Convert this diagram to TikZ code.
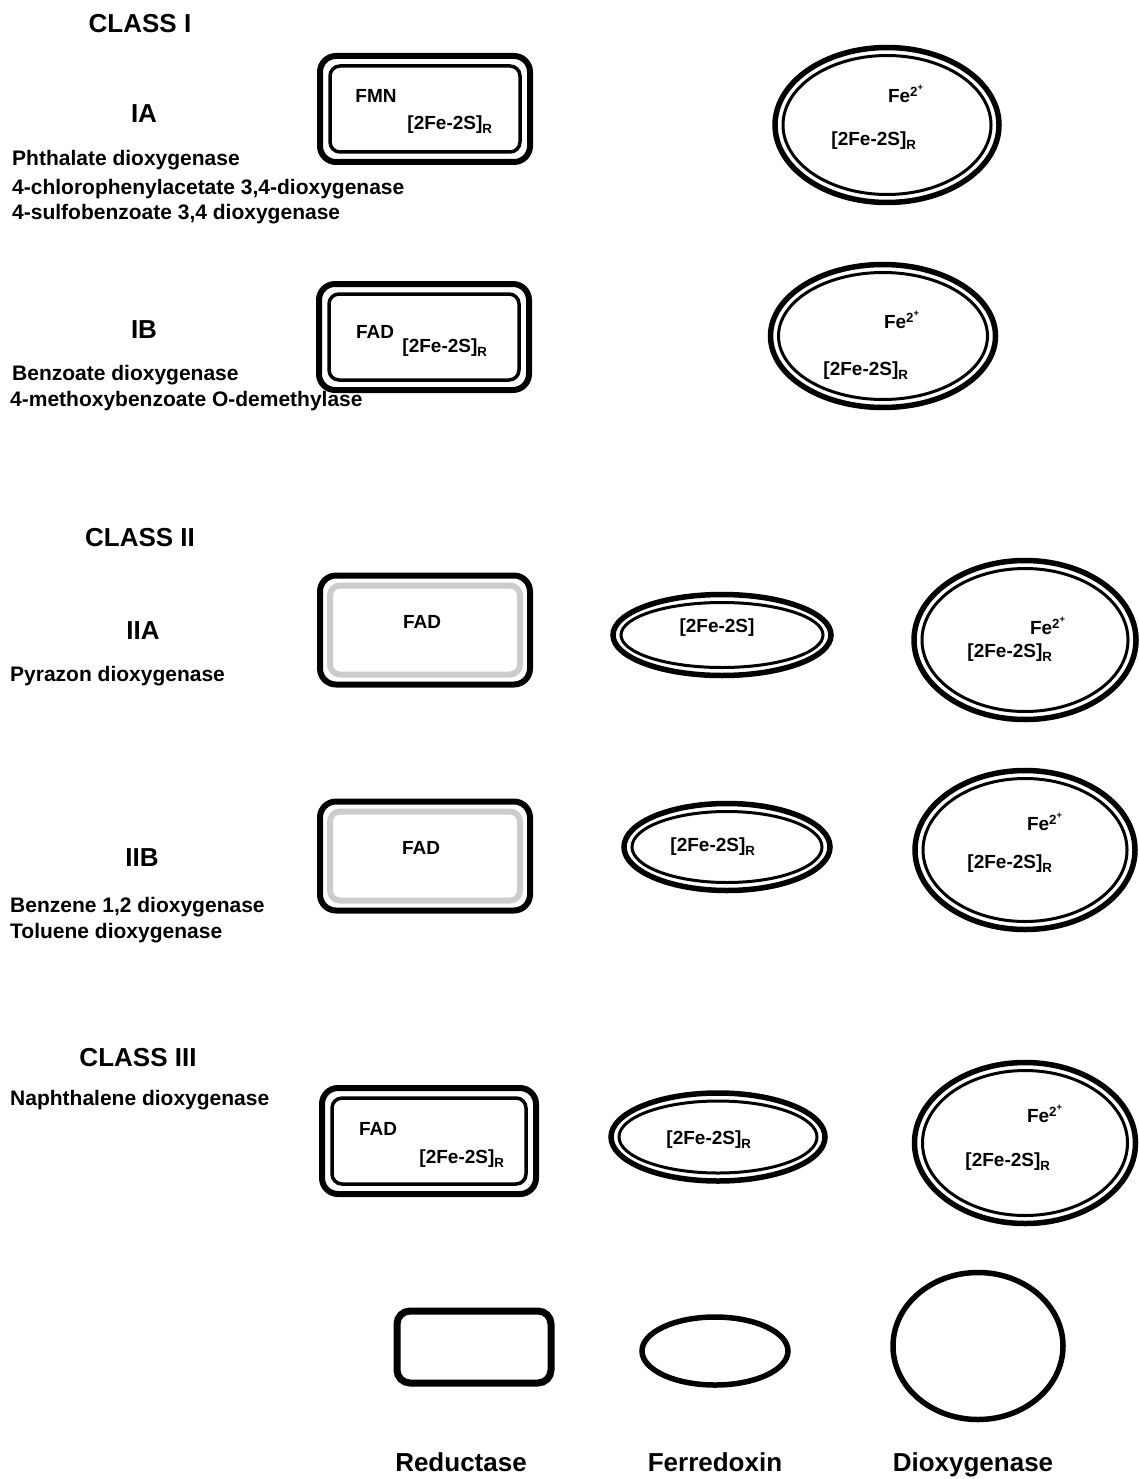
\documentclass[tikz,border=0pt]{standalone}
\usepackage{fontspec}
\setmainfont{Liberation Sans}
\usetikzlibrary{shapes.geometric}
\tikzset{
  % texts
  head/.style={font=\bfseries\fontsize{26}{30}\selectfont,inner sep=0},
  sub head/.style={font=\bfseries\fontsize{26}{30}\selectfont,inner sep=0},
  list/.style={font=\bfseries\fontsize{21}{24}\selectfont,inner sep=0,anchor=base west},
  cofac/.style={font=\bfseries\fontsize{19}{22}\selectfont,inner sep=0},
  % reductase boxes
  red out/.style={draw,line width=6,rounded corners=16,minimum width=210,minimum height=106,inner sep=0},
  red in/.style={draw,line width=3.5,rounded corners=10,minimum width=190,minimum height=86,inner sep=0},
  red gray/.style={red in,draw=gray!40,line width=6},
  % ferredoxin and dioxygenase ovals
  oval out/.style={draw,ellipse,line width=5.5,inner sep=0},
  oval in/.style={draw,ellipse,line width=3,inner sep=0}
}
\begin{document}
\begin{tikzpicture}[x=1pt,y=-1pt]
  \useasboundingbox (0,0) rectangle (1139,1479);
  % CLASS I
  \node[head] (cI) at (140,24) {CLASS I};
  \node[sub head] (IA) at (144,114) {IA};
  \node[list] (IA1) at (12,166) {Phthalate dioxygenase};
  \node[list] (IA2) at (12,195) {4-chlorophenylacetate 3,4-dioxygenase};
  \node[list] (IA3) at (12,220) {4-sulfobenzoate 3,4 dioxygenase};
  \node[red out] (rIA) at (425,109) {};
  \node[red in] (rIAi) at (rIA) {};
  \node[cofac] (fmnIA) at (376,96) {FMN};
  \node[cofac] (fsIA) at (450,125) {[2Fe-2S]\textsubscript{R}};
  \node[oval out,minimum width=224,minimum height=155] (dIA) at (887,125) {};
  \node[oval in,minimum width=208,minimum height=139] (dIAi) at (dIA) {};
  \node[cofac] (feIA) at (906,94) {Fe\textsuperscript{2\textsuperscript{+}}};
  \node[cofac] (fsdIA) at (874,141) {[2Fe-2S]\textsubscript{R}};

  \node[sub head] (IB) at (144,330) {IB};
  \node[list] (IB1) at (12,380) {Benzoate dioxygenase};
  \node[list] (IB2) at (10,406) {4-methoxybenzoate O-demethylase};
  \node[red out] (rIB) at (424,337) {};
  \node[red in] (rIBi) at (rIB) {};
  \node[cofac] (fadIB) at (375,332) {FAD};
  \node[cofac] (fsIB) at (445,348) {[2Fe-2S]\textsubscript{R}};
  \node[oval out,minimum width=225,minimum height=143] (dIB) at (883,336) {};
  \node[oval in,minimum width=209,minimum height=127] (dIBi) at (dIB) {};
  \node[cofac] (feIB) at (902,320) {Fe\textsuperscript{2\textsuperscript{+}}};
  \node[cofac] (fsdIB) at (866,371) {[2Fe-2S]\textsubscript{R}};

  % CLASS II
  \node[head] (cII) at (140,538) {CLASS II};
  \node[sub head] (IIA) at (143,631) {IIA};
  \node[list] (IIA1) at (10,681) {Pyrazon dioxygenase};
  \node[red out,minimum height=109] (rIIA) at (425,630) {};
  \node[red gray,minimum height=89] (rIIAi) at (rIIA) {};
  \node[cofac] (fadIIA) at (422,622) {FAD};
  \node[oval out,minimum width=218,minimum height=81] (fIIA) at (722,635) {};
  \node[oval in,minimum width=202,minimum height=65] (fIIAi) at (fIIA) {};
  \node[cofac] (fsfIIA) at (717,628) {[2Fe-2S]};
  \node[oval out,minimum width=222,minimum height=159] (dIIA) at (1025,640) {};
  \node[oval in,minimum width=206,minimum height=143] (dIIAi) at (dIIA) {};
  \node[cofac] (feIIA) at (1048,626) {Fe\textsuperscript{2\textsuperscript{+}}};
  \node[cofac] (fsdIIA) at (1010,653) {[2Fe-2S]\textsubscript{R}};

  \node[sub head] (IIB) at (142,858) {IIB};
  \node[list] (IIB1) at (10,912) {Benzene 1,2 dioxygenase};
  \node[list] (IIB2) at (10,938) {Toluene dioxygenase};
  \node[red out,minimum height=109] (rIIB) at (425,856) {};
  \node[red gray,minimum height=89] (rIIBi) at (rIIB) {};
  \node[cofac] (fadIIB) at (421,848) {FAD};
  \node[oval out,minimum width=206,minimum height=87] (fIIB) at (727,847) {};
  \node[oval in,minimum width=190,minimum height=71] (fIIBi) at (fIIB) {};
  \node[cofac] (fsfIIB) at (713,847) {[2Fe-2S]\textsubscript{R}};
  \node[oval out,minimum width=220,minimum height=159] (dIIB) at (1025,850) {};
  \node[oval in,minimum width=204,minimum height=143] (dIIBi) at (dIIB) {};
  \node[cofac] (feIIB) at (1045,822) {Fe\textsuperscript{2\textsuperscript{+}}};
  \node[cofac] (fsdIIB) at (1010,864) {[2Fe-2S]\textsubscript{R}};

  % CLASS III
  \node[head] (cIII) at (138,1058) {CLASS III};
  \node[list] (III1) at (10,1105) {Naphthalene dioxygenase};
  \node[red out,minimum width=214] (rIII) at (429,1141) {};
  \node[red in,minimum width=194] (rIIIi) at (rIII) {};
  \node[cofac] (fadIII) at (378,1129) {FAD};
  \node[cofac] (fsIII) at (462,1159) {[2Fe-2S]\textsubscript{R}};
  \node[oval out,minimum width=214,minimum height=88] (fIII) at (718,1137) {};
  \node[oval in,minimum width=198,minimum height=72] (fIIIi) at (fIII) {};
  \node[cofac] (fsfIII) at (709,1140) {[2Fe-2S]\textsubscript{R}};
  \node[oval out,minimum width=221,minimum height=161] (dIII) at (1025,1143) {};
  \node[oval in,minimum width=205,minimum height=145] (dIIIi) at (dIII) {};
  \node[cofac] (feIII) at (1045,1114) {Fe\textsuperscript{2\textsuperscript{+}}};
  \node[cofac] (fsdIII) at (1008,1162) {[2Fe-2S]\textsubscript{R}};

  % legend
  \node[draw,line width=7,rounded corners=13,minimum width=154,minimum height=72,inner sep=0] (lRed) at (474,1347) {};
  \node[oval out,minimum width=146,minimum height=68] (lFdx) at (715,1351) {};
  \node[oval out,minimum width=170,minimum height=147] (lDox) at (978,1346) {};
  \node[head,anchor=base] (tRed) at (461,1471) {Reductase};
  \node[head,anchor=base] (tFdx) at (715,1471) {Ferredoxin};
  \node[head,anchor=base] (tDox) at (973,1471) {Dioxygenase};
\end{tikzpicture}
\end{document}
